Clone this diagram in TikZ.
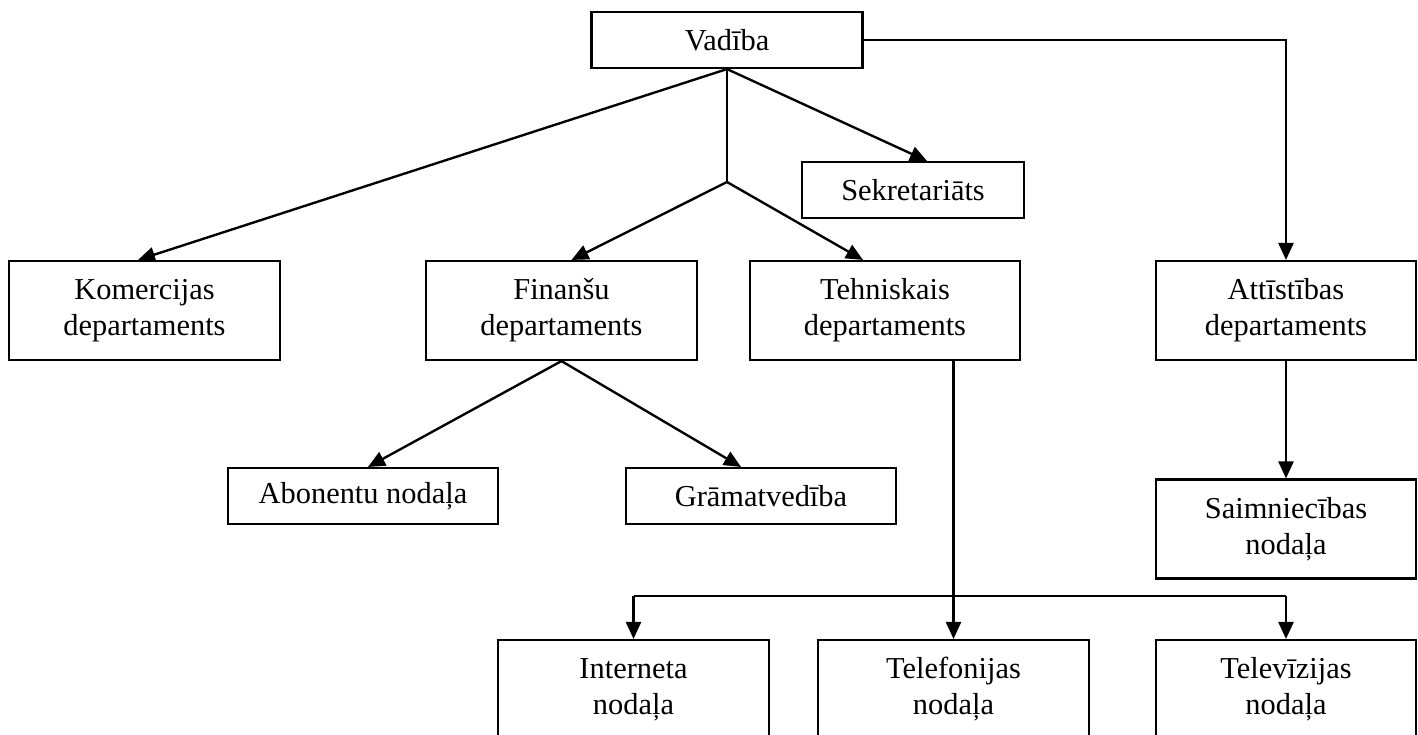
\documentclass[tikz,border=0pt]{standalone}
\usepackage{fontspec}
\setmainfont{Liberation Serif}
\usepackage{tikz}
\usetikzlibrary{arrows.meta}

\begin{document}
\begin{tikzpicture}[line width=1.2pt,
	box/.style={draw, line width=1.2pt, align=center, inner sep=0pt, minimum height=1.12cm,
		font=\fontsize{17.3}{20.5}\selectfont},
	dbox/.style={box, minimum height=1.98cm},
	arr/.style={line width=1.35pt, -{Triangle[length=0.34cm,width=0.3cm]}}]
\useasboundingbox (0,0) rectangle (28.36,-14.68);

\node[box, minimum width=5.42cm] (vad) at (14.54,-0.80) {Vadība};
\node[box, minimum width=4.44cm] (sek) at (18.26,-3.80) {Sekretariāts};
\node[dbox, minimum width=5.42cm] (kom) at (2.89,-6.21) {Komercijas\\departaments};
\node[dbox, minimum width=5.42cm] (fin) at (11.23,-6.21) {Finanšu\\departaments};
\node[dbox, minimum width=5.40cm] (teh) at (17.70,-6.21) {Tehniskais\\departaments};
\node[dbox, minimum width=5.20cm] (att) at (25.72,-6.21) {Attīstības\\departaments};
\node[box, minimum width=5.40cm] (abo) at (7.26,-9.92) {Abonentu nodaļa};
\node[box, minimum width=5.40cm] (gra) at (15.22,-9.92) {Grāmatvedība};
\node[dbox, minimum width=5.20cm] (sai) at (25.72,-10.58) {Saimniecības\\nodaļa};
\node[dbox, minimum width=5.42cm] (int) at (12.67,-13.79) {Interneta\\nodaļa};
\node[dbox, minimum width=5.42cm] (tel) at (19.07,-13.79) {Telefonijas\\nodaļa};
\node[dbox, minimum width=5.20cm] (tv) at (25.72,-13.79) {Televīzijas\\nodaļa};

\coordinate (jn) at (14.54,-3.64);
\coordinate (br) at (19.07,-11.92);

\draw[arr] (vad.south) -- ([xshift=-0.13cm]kom.north);
\draw[arr] (vad.south) -- ([xshift=0.28cm]sek.north);
\draw (vad.south) -- (jn);
\draw[arr] (jn) -- ([xshift=0.2cm]fin.north);
\draw[arr] (jn) -- ([xshift=-0.44cm]teh.north);
\draw[arr] (fin.south) -- ([xshift=0.1cm]abo.north);
\draw[arr] (fin.south) -- ([xshift=-0.4cm]gra.north);
\draw (tel.north |- teh.south) -- (br);
\draw[arr] (br) -- (tel.north);
\draw[arr] (br -| int.north) -- (int.north);
\draw[line width=1.35pt] (br -| int.north) -- (br -| tv.north);
\draw[arr] (br -| tv.north) -- (tv.north);
\draw[arr] (vad.east) -- (att.north |- vad.east) -- (att.north);
\draw[arr] (att.south) -- (sai.north);
\end{tikzpicture}
\end{document}
